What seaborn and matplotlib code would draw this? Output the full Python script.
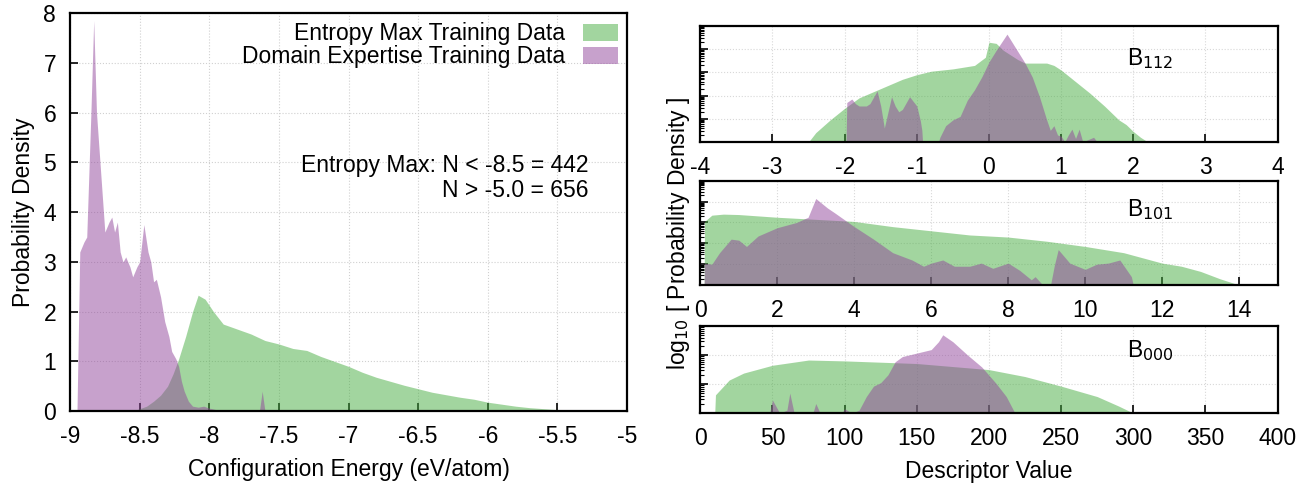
import numpy as np
import matplotlib
matplotlib.use("Agg")
import matplotlib.pyplot as plt
import seaborn as sns

sns.set_theme(style="white")
plt.rcParams['font.family'] = ['Liberation Sans', 'DejaVu Sans']
plt.rcParams['text.color'] = 'black'
plt.rcParams['axes.labelcolor'] = 'black'
plt.rcParams['xtick.color'] = 'black'
plt.rcParams['ytick.color'] = 'black'

GREEN = "#47ad41"
PURPLE = "#91459b"
FS = 16.5

# ---- left panel: configuration energy densities ----
energy_x_max = [-8.55, -8.5, -8.45, -8.4, -8.35, -8.3, -8.26, -8.22, -8.17, -8.12, -8.08, -8.03,
                -7.97, -7.9, -7.8, -7.7, -7.6, -7.5, -7.4, -7.3, -7.2, -7.1, -7.0, -6.9,
                -6.8, -6.7, -6.6, -6.5, -6.4, -6.3, -6.2, -6.1, -6.0, -5.9, -5.8, -5.7,
                -5.6, -5.5, -5.4, -5.3, -5.2]
energy_y_max = [0.0, 0.05, 0.1, 0.2, 0.32, 0.5, 0.75, 1.05, 1.5, 2.0, 2.33, 2.25,
                2.0, 1.75, 1.65, 1.55, 1.42, 1.35, 1.26, 1.22, 1.1, 1.0, 0.9, 0.78,
                0.68, 0.6, 0.52, 0.45, 0.38, 0.33, 0.28, 0.24, 0.18, 0.14, 0.1, 0.07,
                0.05, 0.03, 0.02, 0.01, 0.0]

energy_x_dom = [-8.95, -8.93, -8.9, -8.88, -8.85, -8.83, -8.81, -8.78, -8.75, -8.72, -8.7,
                -8.68, -8.66, -8.64, -8.62, -8.6, -8.57, -8.55, -8.52, -8.5, -8.47, -8.44,
                -8.42, -8.4, -8.38, -8.35, -8.32, -8.29, -8.27, -8.24, -8.22, -8.2, -8.18,
                -8.15, -8.12, -8.08, -8.04, -8.0, -7.95, -7.9, -7.85, -7.8, -7.64, -7.62,
                -7.6, -7.5]
energy_y_dom = [0.0, 3.2, 3.4, 3.5, 6.0, 7.85, 6.0, 4.8, 3.6, 3.8, 3.9,
                3.6, 3.8, 3.2, 3.0, 3.1, 2.9, 2.7, 2.9, 3.0, 3.75, 3.2,
                3.0, 2.6, 2.65, 2.3, 1.8, 1.5, 1.2, 1.05, 0.9, 0.6, 0.4,
                0.2, 0.1, 0.08, 0.1, 0.06, 0.03, 0.02, 0.01, 0.0, 0.0, 0.4,
                0.0, 0.0]

# ---- right panels: log10 probability density of descriptors ----
b112_x_max = [-2.5, -2.4, -2.2, -2.0, -1.8, -1.5, -1.2, -1.0, -0.8, -0.5, -0.2, -0.05, 0.0,
              0.1, 0.2, 0.4, 0.5, 0.6, 0.8, 0.9, 1.0, 1.2, 1.4, 1.6, 1.8, 1.9, 2.0, 2.1, 2.2]
b112_y_max = [-4.0, -3.6, -3.05, -2.55, -2.1, -1.7, -1.3, -1.1, -0.95, -0.85, -0.7, -0.35, 0.3,
              0.25, -0.05, -0.45, -0.6, -0.6, -0.6, -0.7, -0.9, -1.4, -1.9, -2.45, -3.05, -3.25,
              -3.55, -3.8, -4.0]

b112_x_dom = [-1.98, -1.97, -1.9, -1.85, -1.8, -1.7, -1.65, -1.55, -1.5, -1.45, -1.35, -1.3,
              -1.25, -1.2, -1.1, -1.0, -0.95, -0.93, -0.92, -0.7, -0.68, -0.6, -0.5, -0.4,
              -0.3, -0.2, -0.1, 0.0, 0.1, 0.25, 0.35, 0.5, 0.6, 0.7, 0.8, 0.85, 0.9, 0.95,
              1.0, 1.05, 1.1, 1.15, 1.2, 1.25, 1.3, 1.45, 1.5]
b112_y_dom = [-4.0, -2.3, -2.15, -2.35, -2.45, -2.45, -2.35, -1.8, -2.45, -3.4, -2.05, -2.45,
              -2.7, -2.6, -2.05, -2.45, -3.1, -3.5, -4.0, -4.0, -3.8, -3.3, -3.05, -2.9,
              -2.2, -1.75, -1.2, -0.55, -0.05, 0.65, 0.15, -0.6, -1.2, -2.05, -3.05, -3.5, -3.3, -3.7,
              -3.75, -4.0, -3.7, -3.45, -3.85, -3.45, -4.0, -3.8, -4.0]

b101_x_max = [0.1, 0.11, 0.3, 0.6, 1.0, 2.0, 3.0, 4.0, 5.0, 6.0, 7.0, 8.0, 9.0, 10.0,
              11.0, 12.0, 12.5, 13.0, 13.5, 14.0]
b101_y_max = [-4.0, -0.95, -0.65, -0.6, -0.62, -0.75, -0.85, -0.95, -1.2, -1.4, -1.6, -1.7,
              -1.9, -2.15, -2.45, -2.95, -3.1, -3.35, -3.7, -4.0]

b101_x_dom = [0.1, 0.11, 0.3, 0.5, 0.8, 1.0, 1.2, 1.5, 2.0, 2.5, 2.8, 3.0, 3.3, 3.5, 4.0,
              4.5, 5.0, 5.5, 5.8, 6.0, 6.3, 6.6, 7.0, 7.3, 7.6, 8.0, 8.3, 8.6, 8.7, 8.9,
              9.1, 9.2, 9.3, 9.6, 10.0, 10.3, 10.6, 10.9, 11.2, 11.25]
b101_y_dom = [-4.0, -2.95, -3.0, -2.45, -1.8, -1.85, -2.15, -1.65, -1.25, -1.0, -0.75, 0.15,
              -0.3, -0.55, -1.2, -1.8, -2.45, -2.8, -3.1, -2.95, -2.8, -3.1, -3.1, -2.95,
              -3.2, -2.95, -3.3, -3.75, -3.6, -4.0, -4.0, -3.05, -2.3, -2.95, -3.25, -3.0,
              -2.95, -2.8, -3.6, -4.0]

b000_x_max = [10, 10.5, 20, 30, 50, 75, 100, 150, 200, 225, 250, 275, 290, 300]
b000_y_max = [-4.0, -3.37, -2.86, -2.62, -2.35, -2.17, -2.2, -2.29, -2.5, -2.74, -3.07, -3.43, -3.76, -4.0]

b000_x_dom = [48, 50, 55, 60, 62, 65, 78, 80, 83, 98, 100, 105, 110, 115, 120, 125, 130,
              135, 140, 150, 160, 165, 168, 175, 185, 195, 205, 212, 218]
b000_y_dom = [-4.0, -3.55, -4.0, -3.9, -3.31, -4.0, -4.0, -3.67, -4.0, -4.0, -3.85, -4.0,
              -3.9, -3.43, -3.07, -2.95, -2.68, -2.23, -2.05, -1.93, -1.81, -1.54, -1.3,
              -1.54, -1.99, -2.41, -2.98, -3.43, -4.0]

panels = [
    ("B$_{112}$", b112_x_max, b112_y_max, b112_x_dom, b112_y_dom, (-4, 4), np.arange(-4, 5, 1), (-4, 1)),
    ("B$_{101}$", b101_x_max, b101_y_max, b101_x_dom, b101_y_dom, (0, 15), np.arange(0, 15, 2), (-4, 1)),
    ("B$_{000}$", b000_x_max, b000_y_max, b000_x_dom, b000_y_dom, (0, 400), np.arange(0, 401, 50), (-4, -1)),
]

fig = plt.figure(figsize=(13.09, 4.86), dpi=100)

# left panel
ax = fig.add_axes([0.0535, 0.154, 0.4255, 0.819])
ax.fill_between(energy_x_max, energy_y_max, 0, color=GREEN, alpha=0.5, linewidth=0,
                label="Entropy Max Training Data")
ax.fill_between(energy_x_dom, energy_y_dom, 0, color=PURPLE, alpha=0.5, linewidth=0,
                label="Domain Expertise Training Data")
ax.set_xlim(-9, -5)
ax.set_ylim(0, 8)
ax.set_xticks(np.arange(-9, -4.9, 0.5))
ax.set_xticklabels(["-9", "-8.5", "-8", "-7.5", "-7", "-6.5", "-6", "-5.5", "-5"])
ax.set_yticks(range(0, 9))
ax.tick_params(direction="in", length=6, width=1.2, labelsize=FS, pad=10,
               bottom=True, left=True, top=False, right=False)
ax.grid(True, linestyle=":", color="#d0d0d0", linewidth=0.8)
for s in ax.spines.values():
    s.set_linewidth(1.6)
    s.set_color("black")
ax.set_xlabel("Configuration Energy (eV/atom)", fontsize=FS, labelpad=7)
ax.set_ylabel("Probability Density", fontsize=FS, labelpad=6)
leg = ax.legend(loc="upper right", frameon=False, markerfirst=False, fontsize=FS,
                handlelength=1.5, handleheight=0.8, labelspacing=0.0,
                borderaxespad=0.1, handletextpad=0.8, borderpad=0.3)
ax.text(0.93, 0.585, "Entropy Max: N < -8.5 = 442\nN > -5.0 = 656", transform=ax.transAxes,
        ha="right", va="center", multialignment="right", fontsize=FS, linespacing=1.1)

# right panels
rects = [[0.535, 0.708, 0.441, 0.2385],
         [0.535, 0.4136, 0.441, 0.2144],
         [0.535, 0.150, 0.441, 0.179]]
for rect, (name, xm, ym, xd, yd, xl, xt, yl) in zip(rects, panels):
    a = fig.add_axes(rect)
    base = 10.0 ** yl[0]
    a.fill_between(xm, 10.0 ** np.array(ym), base, color=GREEN, alpha=0.5, linewidth=0)
    a.fill_between(xd, 10.0 ** np.array(yd), base, color=PURPLE, alpha=0.5, linewidth=0)
    a.set_yscale("log")
    a.set_ylim(10.0 ** yl[0], 10.0 ** yl[1])
    a.set_xlim(*xl)
    a.set_xticks(xt)
    a.set_xticklabels([str(v) for v in xt])
    a.yaxis.set_major_locator(matplotlib.ticker.LogLocator(base=10, numticks=10))
    a.yaxis.set_minor_locator(matplotlib.ticker.LogLocator(base=10, subs=np.arange(2, 10), numticks=10))
    a.yaxis.set_major_formatter(matplotlib.ticker.NullFormatter())
    a.yaxis.set_minor_formatter(matplotlib.ticker.NullFormatter())
    a.tick_params(axis="y", which="major", direction="in", length=6, width=1.2, left=True, right=False)
    a.tick_params(axis="y", which="minor", direction="in", length=3, width=0.8, left=True, right=False)
    a.tick_params(axis="x", direction="in", length=6, width=1.2, labelsize=FS, pad=10,
                  bottom=True, top=False)
    a.grid(True, which="major", linestyle=":", color="#d8d8d8", linewidth=0.8)
    for s in a.spines.values():
        s.set_linewidth(1.6)
        s.set_color("black")
    a.text(0.74, 0.72, name, transform=a.transAxes, fontsize=FS, ha="left", va="center")

fig.text(0.518, 0.52, "log$_{10}$ [ Probability Density ]", rotation=90, ha="center",
         va="center", fontsize=FS)
fig.text(0.755, 0.03, "Descriptor Value", ha="center", va="center", fontsize=FS)

fig.savefig("out.png", dpi=100)
